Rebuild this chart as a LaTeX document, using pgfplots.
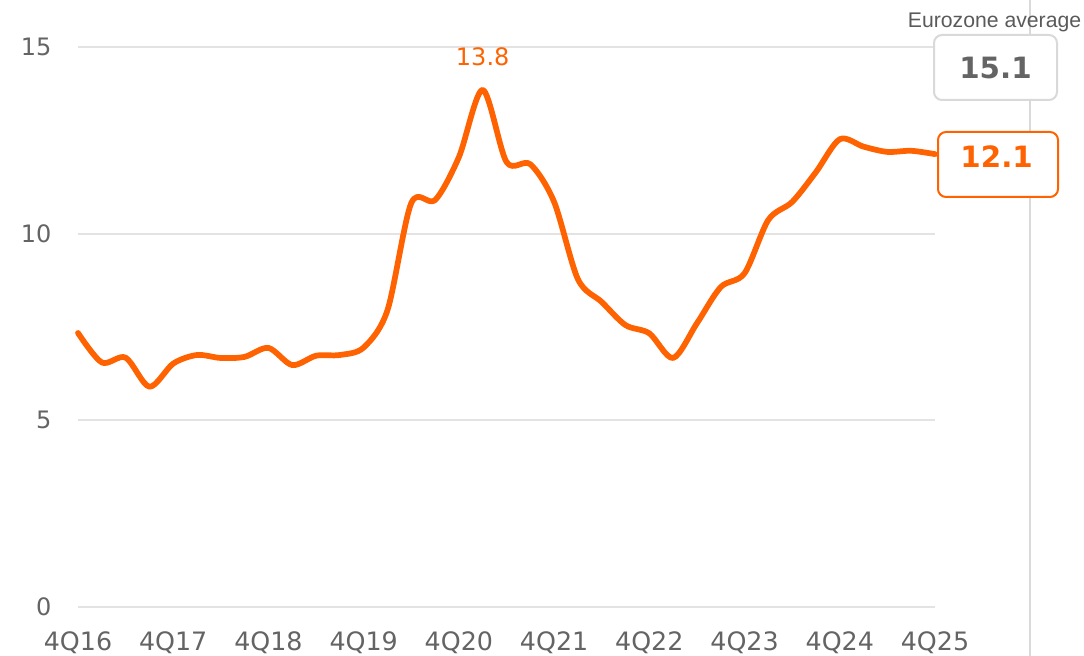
\documentclass[border=0pt]{standalone}
\usepackage{pgfplots}
\pgfplotsset{compat=1.18}
\usepackage{fontspec}
\setmainfont{DejaVu Sans}
\newfontfamily\arialfont{Liberation Sans}
\definecolor{ingorange}{HTML}{FF6200}
\definecolor{gridgray}{HTML}{E3E3E3}
\definecolor{ticktext}{HTML}{646464}
\definecolor{boxgray}{HTML}{D9D9D9}
\pgfplotstableread{
q v
0 7.34
1 6.55
2 6.68
3 5.90
4 6.52
5 6.75
6 6.67
7 6.70
8 6.94
9 6.48
10 6.73
11 6.75
12 6.95
13 7.95
14 10.82
15 10.90
16 12.05
17 13.85
18 11.92
19 11.86
20 10.85
21 8.78
22 8.17
23 7.55
24 7.33
25 6.67
26 7.60
27 8.57
28 8.94
29 10.37
30 10.85
31 11.65
32 12.53
33 12.33
34 12.19
35 12.22
36 12.13
}\datatable
\begin{document}
\begin{tikzpicture}
\begin{axis}[
  scale only axis,
  width=642.75pt, height=420pt,
  xmin=0, xmax=36, ymin=0, ymax=15,
  axis line style={draw=none},
  major tick length=0pt,
  ymajorgrids=true,
  grid style={gridgray, line width=1.4pt},
  ytick={0,5,10,15},
  xtick={0,4,8,12,16,20,24,28,32,36},
  xticklabels={4Q16,4Q17,4Q18,4Q19,4Q20,4Q21,4Q22,4Q23,4Q24,4Q25},
  /pgf/number format/assume math mode=true,
  yticklabel style={anchor=east, inner sep=0pt, xshift=-19.7pt, font=\fontsize{18}{20}\selectfont, text=ticktext},
  xticklabel style={anchor=north, inner sep=0pt, yshift=-18pt, font=\fontsize{19}{21}\selectfont, text=ticktext},
  clip=false,
]
\addplot[ingorange, line width=4.3pt, smooth, line cap=round, line join=round, no marks] table[x=q, y=v] {\datatable};
\node[ingorange, font=\fontsize{18}{20}\selectfont] at (axis cs:17,14.75) {13.8};
\end{axis}
% right panel
\draw[boxgray, line width=1.2pt] (714pt,-36.75pt) -- (714pt,455.25pt);
\draw[boxgray, line width=1.5pt, fill=white, rounded corners=6pt] (642pt,380.25pt) rectangle (734.25pt,429pt);
\node[text=ticktext, font=\fontsize{22}{24}\selectfont\bfseries] at (688.1pt,404.6pt) {15.1};
\node[text=ticktext!90!black, font=\arialfont\fontsize{15.9}{18}\selectfont] at (687.4pt,438.75pt) {Eurozone average};
\draw[ingorange, line width=1.5pt, fill=white, rounded corners=6pt] (645pt,307.5pt) rectangle (735pt,356.25pt);
\node[text=ingorange, font=\fontsize{22}{24}\selectfont\bfseries] at (689pt,337.5pt) {12.1};
\pgfresetboundingbox
\path (-58.5pt,-36.75pt) rectangle (754.5pt,455.25pt);
\end{tikzpicture}
\end{document}
